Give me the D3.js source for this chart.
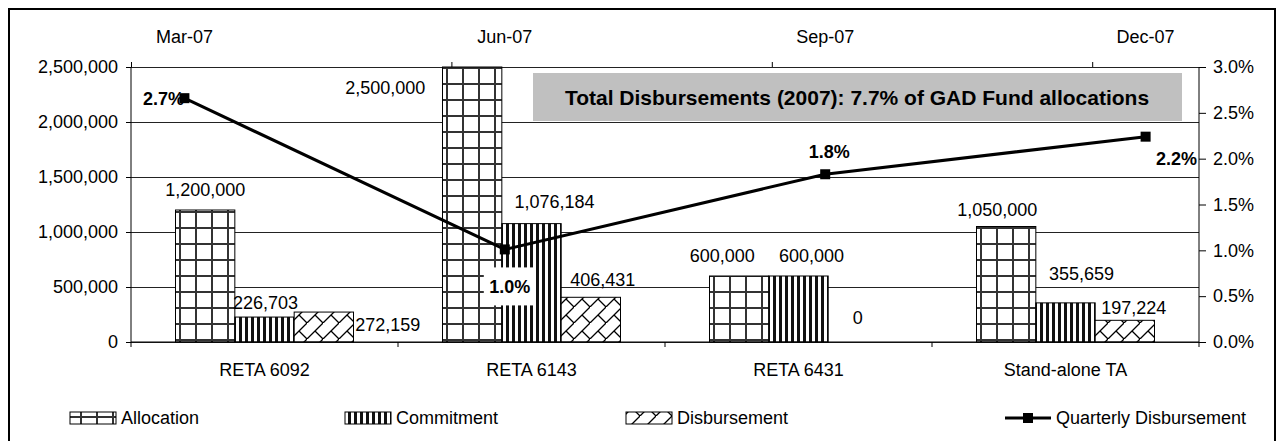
<!DOCTYPE html>
<html>
<head>
<meta charset="utf-8">
<script src="https://cdn.jsdelivr.net/npm/d3@7"></script>
<style>
  body { margin: 0; background: #fff; }
  text { font-family: "Liberation Sans", Arial, sans-serif; fill: #000; }
  .axis text { font-size: 18px; }
  .axis path, .axis line { stroke: #000; }
  .grid line { stroke: #222; }
  .grid path { display: none; }
  .barlabel { font-size: 18px; }
  .pctlabel { font-size: 18px; font-weight: bold; }
  .legend text { font-size: 18px; }
</style>
</head>
<body>
<div id="chart"></div>
<script>
// data
var categories = ["RETA 6092", "RETA 6143", "RETA 6431", "Stand-alone TA"];
var seriesNames = ["Allocation", "Commitment", "Disbursement"];
var allocation = [1200000, 2500000, 600000, 1050000];
var commitment = [226703, 1076184, 600000, 355659];
var disbursement = [272159, 406431, 0, 197224];
var quarters = ["Mar-07", "Jun-07", "Sep-07", "Dec-07"];
var quarterlyPct = [2.66, 1.01, 1.83, 2.24];
var amountTicks = [0, 500000, 1000000, 1500000, 2000000, 2500000];
var pctTicks = [0, 0.5, 1, 1.5, 2, 2.5, 3];
var titleText = "Total Disbursements (2007): 7.7% of GAD Fund allocations";

// manual nudges of the data labels (like they were dragged in the original)
var barLabelShift = [
  [[0, -20], [1, -15], [64, 12]],
  [[-87, 21], [23, -22], [12, -18]],
  [[-17, -20], [13, -20], [0, -24]],
  [[-9, -17], [16, -29], [9, -13]]
];
var pctLabelShift = [[-21, 0], [5, 37], [4, -23], [31, 22]];

(function combochart() {
  var W = 1278, H = 441;
  var margin = { top: 67, left: 131, right: 79, bottom: 99 },
    width = W - margin.left - margin.right,
    height = H - margin.top - margin.bottom;

  var svg = d3.select("#chart").append("svg")
    .attr("width", W)
    .attr("height", H);

  // patterns
  var defs = svg.append("defs");
  var pa = defs.append("pattern").attr("id", "pat-alloc")
    .attr("patternUnits", "userSpaceOnUse").attr("width", 16).attr("height", 16);
  pa.append("rect").attr("width", 16).attr("height", 16).attr("fill", "#fff");
  pa.append("path").attr("d", "M1,0V16M0,1H16").attr("stroke", "#333").attr("stroke-width", 2);

  var pc = defs.append("pattern").attr("id", "pat-commit")
    .attr("patternUnits", "userSpaceOnUse").attr("width", 6).attr("height", 6);
  pc.append("rect").attr("width", 6).attr("height", 6).attr("fill", "#fff");
  pc.append("rect").attr("width", 3).attr("height", 6).attr("fill", "#111");

  var pd = defs.append("pattern").attr("id", "pat-disb")
    .attr("patternUnits", "userSpaceOnUse").attr("width", 16).attr("height", 16);
  pd.append("rect").attr("width", 16).attr("height", 16).attr("fill", "#fff");
  pd.append("path").attr("d", "M0,16L16,0M8,8L16,16")
    .attr("stroke", "#000").attr("stroke-width", 1.3).attr("fill", "none");

  var fills = ["url(#pat-alloc)", "url(#pat-commit)", "url(#pat-disb)"];

  // outer frame
  svg.append("rect")
    .attr("x", 9).attr("y", 9)
    .attr("width", 1266).attr("height", 450)
    .attr("fill", "none").attr("stroke", "#000").attr("stroke-width", 2);

  var g = svg.append("g")
    .attr("transform", "translate(" + margin.left + "," + margin.top + ")");

  var x0 = d3.scaleBand().domain(categories).range([0, width]);
  var x1 = d3.scaleBand().domain(seriesNames).range([0, x0.bandwidth()])
    .paddingInner(0).paddingOuter(0.75);
  var y = d3.scaleLinear().domain([0, 2500000]).range([height, 0]);
  var y2 = d3.scaleLinear().domain([0, 3]).range([height, 0]);
  // months from Mar-07 to end of Dec-07, points in the middle of their month
  var xm = d3.scaleLinear().domain([0, 10]).range([0, width]);

  var rows = categories.map(function(c, i) {
    return { cat: c, i: i, values: [allocation[i], commitment[i], disbursement[i]] };
  });

  // gridlines
  g.append("g").attr("class", "grid")
    .call(d3.axisLeft(y).tickValues(amountTicks).tickSize(-width).tickFormat(""));

  // bars
  var groups = g.selectAll(".cat").data(rows).enter().append("g")
    .attr("class", "cat")
    .attr("transform", function(d) { return "translate(" + x0(d.cat) + ",0)"; });

  groups.selectAll("rect").data(function(d) {
      return d.values.map(function(v, j) { return { s: seriesNames[j], j: j, v: v, i: d.i }; });
    }).enter().append("rect")
    .attr("x", function(d) { return x1(d.s); })
    .attr("y", function(d) { return y(d.v); })
    .attr("width", x1.bandwidth())
    .attr("height", function(d) { return height - y(d.v); })
    .attr("fill", function(d) { return fills[d.j]; })
    .attr("stroke", "#000")
    .attr("stroke-width", function(d) { return d.v > 0 ? 1 : 0; });

  // title box
  svg.append("rect")
    .attr("x", 533).attr("y", 73).attr("width", 649).attr("height", 48)
    .attr("fill", "#c0c0c0");
  svg.append("text")
    .attr("x", 857).attr("y", 97).attr("dy", "0.36em")
    .attr("text-anchor", "middle")
    .style("font-size", "21px").style("font-weight", "bold")
    .text(titleText);

  // bar labels
  groups.selectAll(".barlabel").data(function(d) {
      return d.values.map(function(v, j) { return { s: seriesNames[j], j: j, v: v, i: d.i }; });
    }).enter().append("text")
    .attr("class", "barlabel")
    .attr("text-anchor", "middle")
    .attr("dy", "0.36em")
    .attr("x", function(d) { return x1(d.s) + x1.bandwidth() / 2 + barLabelShift[d.i][d.j][0]; })
    .attr("y", function(d) { return y(d.v) + barLabelShift[d.i][d.j][1]; })
    .text(function(d) { return d3.format(",")(d.v); });

  var pts = quarterlyPct.map(function(v, i) {
    return { q: quarters[i], v: v, i: i, x: xm(i * 3 + 0.5), y: y2(v) };
  });

  // white box behind the 1.0% label
  g.selectAll(".pctbox").data(pts).enter().append("rect")
    .attr("class", "pctbox")
    .attr("x", function(d) { return d.x + pctLabelShift[d.i][0] - 26; })
    .attr("y", function(d) { return d.y + pctLabelShift[d.i][1] - 19; })
    .attr("width", 52).attr("height", 38)
    .attr("fill", function(d) { return d.i == 1 ? "#fff" : "none"; });

  // axes
  var ax = g.append("g").attr("class", "axis")
    .call(d3.axisLeft(y).tickValues(amountTicks).tickSize(5).tickPadding(8)
      .tickFormat(d3.format(",")));
  ax.select(".domain").attr("d", "M0,0V" + height);

  var ar = g.append("g").attr("class", "axis")
    .attr("transform", "translate(" + width + ",0)")
    .call(d3.axisRight(y2).tickValues(pctTicks).tickSize(7).tickPadding(7)
      .tickFormat(function(d) { return d.toFixed(1) + "%"; }));
  ar.select(".domain").attr("d", "M0,0V" + height);

  var ab = g.append("g").attr("class", "axis")
    .attr("transform", "translate(0," + height + ")")
    .call(d3.axisBottom(x0).tickSize(0).tickPadding(21));
  ab.select(".domain").attr("d", "M0,0H" + width);
  ab.selectAll(".boundary").data(d3.range(categories.length + 1)).enter().append("line")
    .attr("class", "boundary")
    .attr("x1", function(k) { return k * x0.step(); })
    .attr("x2", function(k) { return k * x0.step(); })
    .attr("y1", 0).attr("y2", 5)
    .attr("stroke", "#000");

  var at = g.append("g").attr("class", "axis")
    .call(d3.axisTop(xm).tickValues([0, 3, 6, 9]).tickSize(5).tickFormat(""));
  at.select(".domain").remove();
  at.selectAll(".qlabel").data(pts).enter().append("text")
    .attr("class", "qlabel")
    .attr("text-anchor", "middle")
    .attr("x", function(d) { return d.x; })
    .attr("y", -30).attr("dy", "0.36em")
    .text(function(d) { return d.q; });

  // % labels
  g.selectAll(".pctlabel").data(pts).enter().append("text")
    .attr("class", "pctlabel")
    .attr("text-anchor", "middle").attr("dy", "0.36em")
    .attr("x", function(d) { return d.x + pctLabelShift[d.i][0]; })
    .attr("y", function(d) { return d.y + pctLabelShift[d.i][1]; })
    .text(function(d) { return d.v.toFixed(1) + "%"; });

  // quarterly line
  var line = d3.line().x(function(d) { return d.x; }).y(function(d) { return d.y; });
  g.append("path").datum(pts)
    .attr("d", line)
    .attr("fill", "none").attr("stroke", "#000").attr("stroke-width", 3);
  g.selectAll(".marker").data(pts).enter().append("rect")
    .attr("class", "marker")
    .attr("x", function(d) { return d.x - 5; })
    .attr("y", function(d) { return d.y - 5; })
    .attr("width", 10).attr("height", 10)
    .attr("fill", "#000");

  // legend
  var legendX = [70, 345, 626, 1005];
  var leg = svg.append("g").attr("class", "legend");
  seriesNames.forEach(function(s, j) {
    leg.append("rect")
      .attr("x", legendX[j]).attr("y", 412)
      .attr("width", 46).attr("height", 12)
      .attr("fill", fills[j]).attr("stroke", "#000");
    leg.append("text")
      .attr("x", legendX[j] + 51).attr("y", 418).attr("dy", "0.36em")
      .text(s);
  });
  leg.append("line")
    .attr("x1", legendX[3]).attr("x2", legendX[3] + 46)
    .attr("y1", 418).attr("y2", 418)
    .attr("stroke", "#000").attr("stroke-width", 3);
  leg.append("rect")
    .attr("x", legendX[3] + 18).attr("y", 413)
    .attr("width", 10).attr("height", 10).attr("fill", "#000");
  leg.append("text")
    .attr("x", legendX[3] + 51).attr("y", 418).attr("dy", "0.36em")
    .text("Quarterly Disbursement");
})();
</script>
</body>
</html>
